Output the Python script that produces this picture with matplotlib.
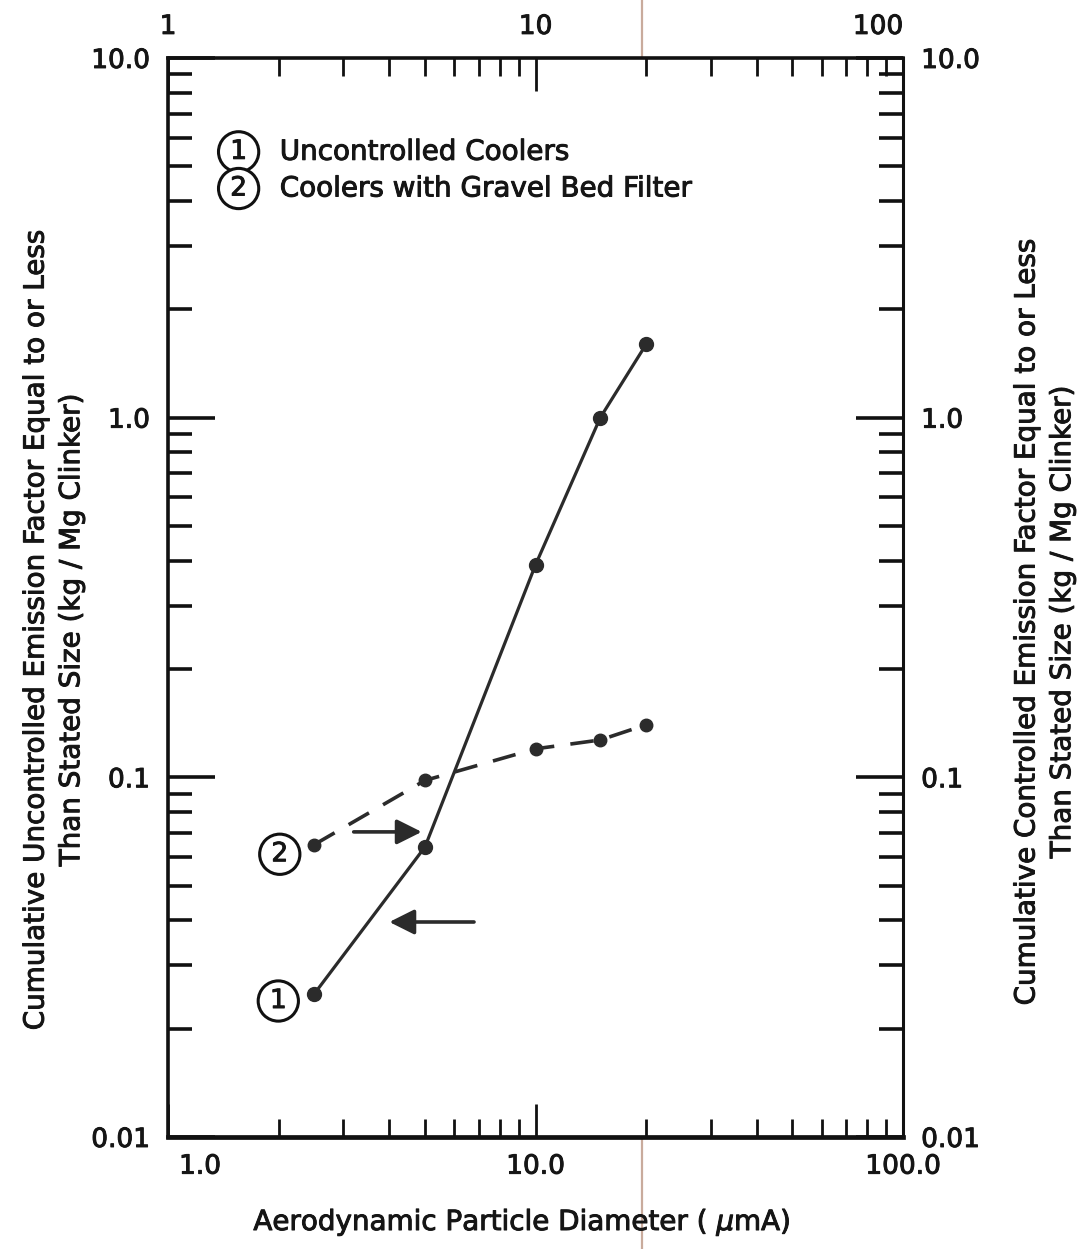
import numpy as np
import matplotlib.pyplot as plt
import matplotlib.patheffects as pe
from matplotlib.lines import Line2D
from matplotlib.transforms import ScaledTranslation

# --- particle size distribution data ---
particle_size = [2.5, 5.0, 10.0, 15.0, 20.0]            # um
uncontrolled = [0.025, 0.064, 0.39, 1.0, 1.6]           # kg/Mg clinker
gravel_bed = [0.065, 0.098, 0.12, 0.127, 0.14]          # kg/Mg clinker

y_ticks = [0.01, 0.1, 1.0, 10.0]
y_ticklabels = ['0.01', '0.1', '1.0', '10.0']
x_ticks = [1.0, 10.0, 100.0]
x_ticklabels_bottom = ['1.0', '10.0', '100.0']
x_ticklabels_top = ['1', '10', '100']

legend_entries = ['Uncontrolled Coolers', 'Coolers with Gravel Bed Filter']

INK = '#2b2b2b'
TXT = '#151515'
plt.rcParams['font.family'] = ['DejaVu Sans']
# slightly heavier strokes for the lettering
HEAVY = [pe.withStroke(linewidth=0.7, foreground=TXT)]

fig = plt.figure(figsize=(10.8, 12.49), dpi=100)
fig.patch.set_facecolor('white')
ax = fig.add_axes([0.1556, 0.0897, 0.6806, 0.8639])
ax.set_xscale('log')
ax.set_yscale('log')
ax.set_xlim(1, 100)
ax.set_ylim(0.01, 10)

# curves
ax.plot(particle_size, uncontrolled, color=INK, lw=2.3, marker='o', ms=10,
        mfc=INK, mec=INK, zorder=3, solid_joinstyle='round')
ax.plot(particle_size, gravel_bed, color=INK, lw=2.6, dashes=(6.5, 4.5),
        marker='o', ms=9, mfc=INK, mec=INK, zorder=3)

# spines
for side, w in [('left', 2.6), ('top', 2.6), ('right', 2.2), ('bottom', 3.4)]:
    ax.spines[side].set_linewidth(w)
    ax.spines[side].set_color('#111111')

# ticks point inward on all four sides
ax.tick_params(axis='both', which='both', direction='in', colors='#111111',
               top=True, right=True, labelsize=19, labelcolor=TXT)
ax.tick_params(axis='y', which='major', length=34, width=2.6, pad=13,
               labelleft=True, labelright=True)
ax.tick_params(axis='y', which='minor', length=17, width=2.6)
ax.tick_params(axis='x', which='major', length=24, width=2.0, pad=12)
ax.tick_params(axis='x', which='minor', length=13, width=2.0)

ax.set_yticks(y_ticks)
ax.set_yticklabels(y_ticklabels)
ax.set_xticks(x_ticks)
ax.set_xticklabels(x_ticklabels_bottom)
first = ax.xaxis.get_majorticklabels()[0]
first.set_transform(first.get_transform()
                    + ScaledTranslation(32 / 100, 0, fig.dpi_scale_trans))

# top scale labels
top = ax.secondary_xaxis('top')
top.set_xticks(x_ticks)
top.set_xticklabels(x_ticklabels_top)
top.tick_params(length=0, pad=13, labelsize=19, labelcolor=TXT)
top.tick_params(which='minor', length=0)
top.spines['top'].set_visible(False)
top.get_xticklabels()[2].set_ha('right')

for lbl in ax.get_xticklabels() + ax.get_yticklabels() + top.get_xticklabels():
    lbl.set_path_effects(HEAVY)
for t in ax.yaxis.get_major_ticks():
    t.label2.set_path_effects(HEAVY)

# axis titles
fig.text(0.483, 0.0216, 'Aerodynamic Particle Diameter ( $\\mu$mA)',
         ha='center', va='center', fontsize=20, color=TXT, path_effects=HEAVY)
fig.text(0.0495, 0.4956,
         'Cumulative Uncontrolled Emission Factor Equal to or Less\n'
         'Than Stated Size (kg / Mg Clinker)',
         rotation=90, ha='center', va='center', fontsize=20,
         linespacing=1.35, color=TXT, path_effects=HEAVY)
fig.text(0.967, 0.502,
         'Cumulative Controlled Emission Factor Equal to or Less\n'
         'Than Stated Size (kg / Mg Clinker)',
         rotation=90, ha='center', va='center', fontsize=20,
         linespacing=1.35, color=TXT, path_effects=HEAVY)

# legend with circled numbers
circle = dict(boxstyle='circle,pad=0.27', fc='white', ec='#111111', lw=2.2)
for i, label in enumerate(legend_entries):
    yy = 0.913 - i * 0.034
    ax.text(0.096, yy, str(i + 1), transform=ax.transAxes, fontsize=19,
            ha='center', va='center', bbox=circle, color=TXT,
            path_effects=HEAVY)
    ax.text(0.152, yy, label, transform=ax.transAxes, fontsize=20,
            ha='left', va='center', color=TXT, path_effects=HEAVY)

# curve tags next to the first points
ax.text(0.152, 0.262, '2', transform=ax.transAxes, fontsize=19,
        ha='center', va='center', bbox=circle, color=TXT, path_effects=HEAVY)
ax.text(0.150, 0.126, '1', transform=ax.transAxes, fontsize=19,
        ha='center', va='center', bbox=circle, color=TXT, path_effects=HEAVY)

# arrows indicating which axis each curve reads on
arrow = dict(arrowstyle='-|>', lw=2.6, color=INK, mutation_scale=38,
             shrinkA=0, shrinkB=0)
ax.annotate('', xy=(4.9, 0.0705), xytext=(3.2, 0.0705), arrowprops=arrow)
ax.annotate('', xy=(4.0, 0.0396), xytext=(6.8, 0.0396), arrowprops=arrow)

# crease line running down the scanned page
fig.add_artist(Line2D([0.594, 0.594], [0, 1], transform=fig.transFigure,
                      color='#c9ab9c', lw=1.6, zorder=0))

fig.savefig('out.png', dpi=100, facecolor='white')
